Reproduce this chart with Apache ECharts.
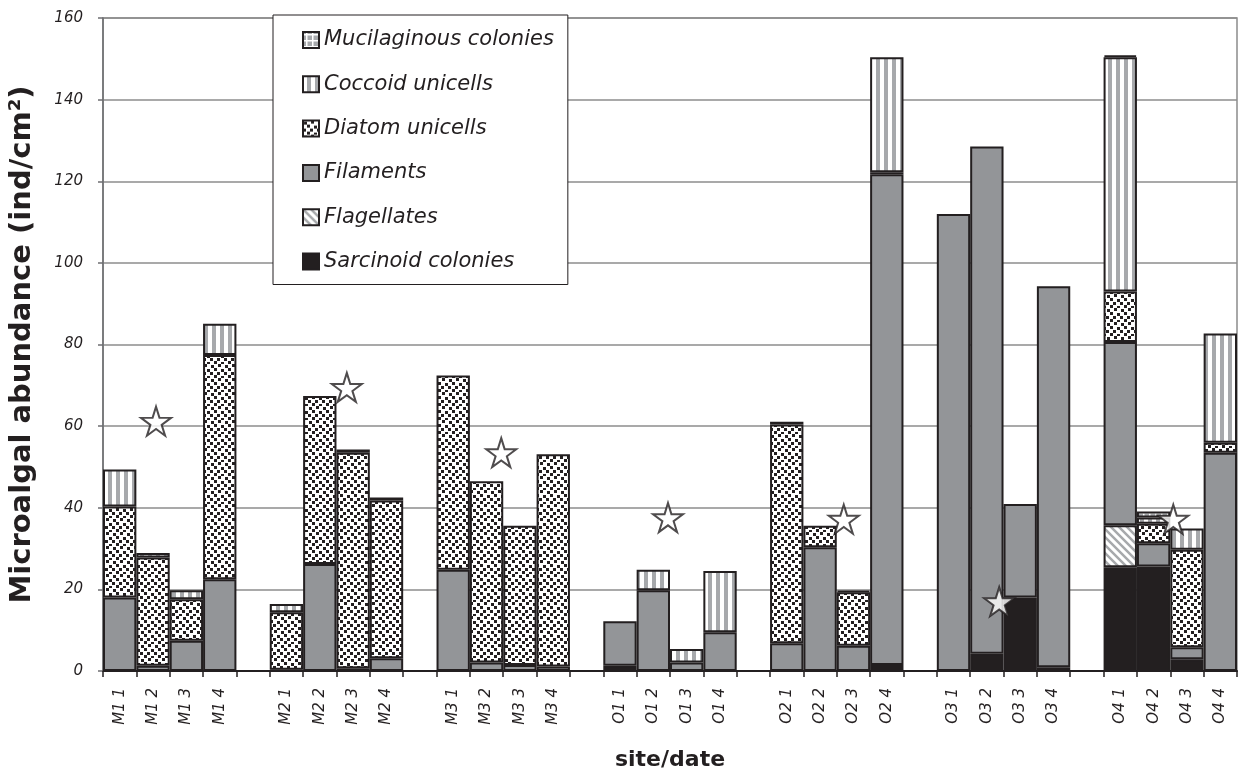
<!DOCTYPE html>
<html><head><meta charset="utf-8">
<script src="https://cdn.jsdelivr.net/npm/echarts@6/dist/echarts.min.js"></script>
<style>html,body{margin:0;padding:0;background:#fff}#c{width:1244px;height:776px}</style>
</head><body><div id="c"></div>
<script>
// ---- data ----
const sites = ['M1', 'M2', 'M3', 'O1', 'O2', 'O3', 'O4'];
const dates = ['1', '2', '3', '4'];
// per sample, order: M1 1..4, M2 1..4, M3 1..4, O1 1..4, O2 1..4, O3 1..4, O4 1..4
const sarcinoid    = [0,0,0,0,  0,0,0,0,  0,0,0,0,  1.3,0,0,0,  0,0,0,1.5,  0,4.2,18.0,0.9,  25.4,25.6,2.9,0];
const flagellates  = [0,0,0,0,  0,0,0,0,  0,0,0,0,  0,0,0,0,    0,0,0,0,    0,0,0,0,         10.3,0,0,0];
const filaments    = [18.0,1.3,7.4,22.5,  0.3,26.2,0.7,3.1,  24.8,2.1,1.5,1.1,  10.9,19.8,2.1,9.5,  6.8,30.3,6.2,120.2,  112.0,124.3,22.9,93.4,  44.9,5.7,2.9,53.5];
const diatoms      = [22.3,26.5,10.2,54.9,  14.1,41.2,52.8,38.7,  47.6,44.4,34.1,52.0,  0,0,0,0,  53.6,5.3,13.1,0.5,  0,0,0,0,  12.4,4.8,23.9,2.4];
const coccoid      = [9.1,1.1,2.2,7.7,  2.0,0,0.8,0.7,  0,0,0,0,  0,5.0,3.3,15.0,  0.7,0,0.3,28.2,  0,0,0,0,  57.4,1.5,5.2,26.8];
const mucilaginous = [0,0,0,0,  0,0,0,0,  0,0,0,0,  0,0,0,0,  0,0,0,0,  0,0,0,0,  0.4,1.5,0,0];
// star markers: [slot position along the axis, value]
const stars = [[1.59, 61.2], [7.31, 69.5], [11.94, 53.5], [16.94, 37.6], [22.21, 37.2], [26.87, 17.0], [32.09, 37.2]];
const yMin = 0, yMax = 160, yStep = 20;

// ---- build category slots (one empty slot between sites) ----
const categories = [];
const slotOf = [];
sites.forEach((s, si) => {
  dates.forEach(d => { slotOf.push(categories.length); categories.push(s + ' ' + d); });
  if (si < sites.length - 1) categories.push('');
});
function toSlots(arr) {
  const out = categories.map(() => '-');
  arr.forEach((v, i) => { out[slotOf[i]] = v > 0 ? v : '-'; });
  return out;
}

// ---- fill patterns ----
function tile(w, h, draw) {
  const c = document.createElement('canvas'); c.width = w; c.height = h;
  const g = c.getContext('2d'); draw(g, w, h); return c;
}
const INK = '#231f20', GREY = '#939598', LIGHT = '#a7a9ac';
const pDiatom = tile(14, 14, (g) => {
  g.fillStyle = '#fff'; g.fillRect(0,0,14,14); g.fillStyle = INK;
  [[1,1],[8,0],[4,4],[11,5],[0,8],[7,8],[4,11],[11,12]].forEach(p => g.fillRect(p[0], p[1], 3, 3));
});
const pCoccoid = tile(8, 4, (g) => { g.fillStyle = '#fff'; g.fillRect(0,0,8,4); g.fillStyle = LIGHT; g.fillRect(4,0,4,4); });
const pFlag = tile(8, 8, (g) => {
  g.fillStyle = '#fff'; g.fillRect(0,0,8,8); g.strokeStyle = LIGHT; g.lineWidth = 2.5;
  g.beginPath(); g.moveTo(-2,-2); g.lineTo(10,10); g.moveTo(-6,2); g.lineTo(2,10); g.moveTo(6,-2); g.lineTo(10,2); g.stroke();
});
const pMuc = tile(6, 6, (g) => { g.fillStyle = LIGHT; g.fillRect(0,0,6,6); g.fillStyle = '#fff'; g.fillRect(0,2,6,1.5); g.fillRect(3,0,1.5,6); });

const FONT = 'DejaVu Sans, Verdana, sans-serif';
function barSeries(name, arr, color) {
  return {
    name, type: 'bar', stack: 'total', xAxisIndex: 0, yAxisIndex: 0,
    barCategoryGap: '0%', data: toSlots(arr),
    itemStyle: { color, borderColor: INK, borderWidth: 2 },
    emphasis: { disabled: true }
  };
}

const chart = echarts.init(document.getElementById('c'), null, { renderer: 'canvas' });
chart.setOption({
  animation: false,
  backgroundColor: '#fff',
  grid: { left: 102, right: 7, top: 18, bottom: 104, show: true, borderColor: '#8c8c8c', borderWidth: 1.5 },
  legend: {
    orient: 'vertical', left: 273, top: 15,
    data: ['Mucilaginous colonies', 'Coccoid unicells', 'Diatom unicells', 'Filaments', 'Flagellates', 'Sarcinoid colonies'],
    icon: 'rect', itemWidth: 16, itemHeight: 16, itemGap: 20.3,
    padding: [13, 14, 11, 29],
    backgroundColor: '#fff', borderColor: INK, borderWidth: 1,
    textStyle: { fontFamily: FONT, fontStyle: 'italic', fontSize: 21, lineHeight: 24, color: INK },
    selectedMode: false
  },
  xAxis: [
    {
      type: 'category', data: categories,
      axisLine: { lineStyle: { color: INK, width: 2 } },
      axisTick: { show: true, interval: 0, length: 6, lineStyle: { color: INK, width: 1.5 } },
      axisLabel: { interval: 0, rotate: 90, margin: 17, fontFamily: FONT, fontStyle: 'italic', fontSize: 15, color: INK },
      splitLine: { show: false },
      name: 'site/date', nameLocation: 'middle', nameGap: 78,
      nameTextStyle: { fontFamily: FONT, fontWeight: 'bold', fontSize: 22, color: INK }
    },
    { type: 'value', min: 0, max: categories.length, show: false }
  ],
  yAxis: {
    type: 'value', min: yMin, max: yMax, interval: yStep,
    axisLine: { show: true, lineStyle: { color: '#6d6e71', width: 1.5 } },
    axisTick: { show: true, length: 5, lineStyle: { color: '#6d6e71', width: 1.5 } },
    splitLine: { lineStyle: { color: '#8c8c8c', width: 1.5 } },
    axisLabel: { margin: 20, fontFamily: FONT, fontStyle: 'italic', fontSize: 15, color: INK },
    name: 'Microalgal abundance (ind/cm²)', nameLocation: 'middle', nameGap: 66, nameRotate: 90,
    nameTextStyle: { fontFamily: FONT, fontWeight: 'bold', fontSize: 29, color: INK }
  },
  series: [
    barSeries('Sarcinoid colonies', sarcinoid, INK),
    barSeries('Flagellates', flagellates, { image: pFlag, repeat: 'repeat' }),
    barSeries('Filaments', filaments, GREY),
    barSeries('Diatom unicells', diatoms, { image: pDiatom, repeat: 'repeat' }),
    barSeries('Coccoid unicells', coccoid, { image: pCoccoid, repeat: 'repeat' }),
    barSeries('Mucilaginous colonies', mucilaginous, { image: pMuc, repeat: 'repeat' }),
    {
      name: 'stars', type: 'scatter', xAxisIndex: 1, yAxisIndex: 0, z: 10,
      symbol: 'path://M50,0 L61,35 L98,35 L68,57 L79,91 L50,70 L21,91 L32,57 L2,35 L39,35 Z',
      symbolSize: [30, 29], data: stars,
      itemStyle: { color: '#fff', borderColor: INK, borderWidth: 2 },
      emphasis: { disabled: true }
    }
  ]
});
</script></body></html>
